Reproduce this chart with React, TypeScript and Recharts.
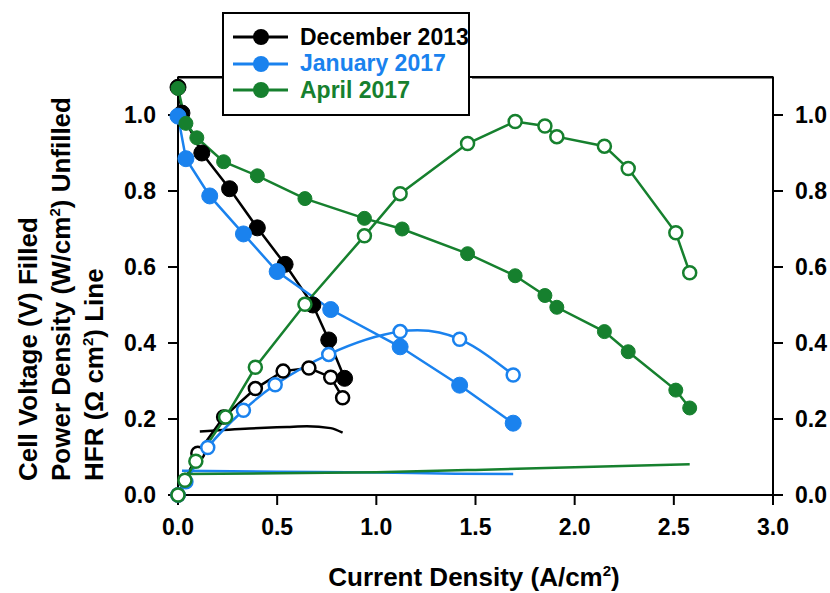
import React from "react";
import {
  ComposedChart,
  Line,
  XAxis,
  YAxis,
  Legend,
  ReferenceLine,
} from "recharts";

const FONT = "'Liberation Sans', Arial, sans-serif";
const BLACK = "#000000";
const BLUE = "#1a82ee";
const GREEN = "#16802e";

// December 2013
const decVoltX = [0, 0.02, 0.12, 0.26, 0.4, 0.54, 0.68, 0.76, 0.84];
const decVoltY = [1.073, 1.005, 0.9, 0.806, 0.703, 0.607, 0.5, 0.408, 0.307];
const decPowX = [0, 0.1, 0.23, 0.39, 0.53, 0.66, 0.77, 0.83];
const decPowY = [0, 0.11, 0.205, 0.28, 0.326, 0.334, 0.31, 0.256];
const decHfrX = [0.11, 0.36, 0.55, 0.65, 0.77, 0.83];
const decHfrY = [0.167, 0.175, 0.179, 0.181, 0.176, 0.164];

// January 2017
const janVoltX = [0, 0.04, 0.16, 0.33, 0.5, 0.77, 1.12, 1.42, 1.69];
const janVoltY = [0.997, 0.885, 0.787, 0.687, 0.588, 0.488, 0.39, 0.289, 0.189];
const janPowX = [0, 0.04, 0.15, 0.33, 0.49, 0.76, 1.12, 1.42, 1.69];
const janPowY = [0, 0.035, 0.125, 0.223, 0.29, 0.37, 0.43, 0.41, 0.316];
const janHfrX = [0.02, 0.5, 1.0, 1.4, 1.69];
const janHfrY = [0.064, 0.061, 0.059, 0.056, 0.055];

// April 2017
const aprVoltX = [0, 0.04, 0.095, 0.23, 0.4, 0.64, 0.94, 1.13, 1.46, 1.7, 1.85, 1.91, 2.15, 2.27, 2.51, 2.58];
const aprVoltY = [1.07, 0.978, 0.94, 0.877, 0.84, 0.78, 0.728, 0.7, 0.635, 0.577, 0.525, 0.494, 0.43, 0.377, 0.276, 0.229];
const aprPowX = [0, 0.035, 0.09, 0.24, 0.39, 0.64, 0.94, 1.12, 1.46, 1.7, 1.85, 1.91, 2.15, 2.27, 2.51, 2.58];
const aprPowY = [0, 0.039, 0.089, 0.205, 0.336, 0.502, 0.682, 0.793, 0.925, 0.983, 0.971, 0.943, 0.918, 0.859, 0.69, 0.585];
const aprHfrX = [0.03, 0.5, 1.0, 1.5, 2.0, 2.58];
const aprHfrY = [0.055, 0.057, 0.06, 0.066, 0.073, 0.081];

const xTicks = [0, 0.5, 1.0, 1.5, 2.0, 2.5, 3.0];
const yTicks = [0, 0.2, 0.4, 0.6, 0.8, 1.0];
const X_MAX = 3;
const Y_MAX = 1.1;

const legendItems = [
  { name: "December 2013", color: BLACK },
  { name: "January 2017", color: BLUE },
  { name: "April 2017", color: GREEN },
];

const toPoints = (xs: number[], ys: number[]) =>
  xs.map((x, i) => ({ x, y: ys[i] }));

const tickStyle = { fill: "#000", fontSize: 23, fontWeight: 700, fontFamily: FONT };
const axisStroke = { stroke: "#000", strokeWidth: 2 };

const filledDot = (color: string, r: number) => ({
  r,
  fill: color,
  stroke: color,
  strokeWidth: 1,
});
const openDot = (color: string) => ({
  r: 6.5,
  fill: "#fff",
  stroke: color,
  strokeWidth: 2.5,
});

function LegendBox() {
  return (
    <div
      style={{
        position: "relative",
        width: 244,
        height: 100,
        background: "#fff",
        border: "2px solid #000",
        fontFamily: FONT,
        fontWeight: 700,
        fontSize: 23,
        boxSizing: "content-box",
      }}
    >
      {legendItems.map((item, i) => (
        <div
          key={item.name}
          style={{
            position: "absolute",
            left: 8,
            top: 10 + i * 26.5,
            display: "flex",
            alignItems: "center",
            height: 26,
          }}
        >
          <svg width={58} height={20} style={{ marginRight: 10 }}>
            <line x1={1} y1={10} x2={56} y2={10} stroke={item.color} strokeWidth={3} />
            <circle cx={29} cy={10} r={8} fill={item.color} />
          </svg>
          <span style={{ color: item.color, whiteSpace: "nowrap" }}>{item.name}</span>
        </div>
      ))}
    </div>
  );
}

export default function App() {
  const series = [
    { key: "decH", data: toPoints(decHfrX, decHfrY), color: BLACK, kind: "hfr" },
    { key: "decP", data: toPoints(decPowX, decPowY), color: BLACK, kind: "pow" },
    { key: "decV", data: toPoints(decVoltX, decVoltY), color: BLACK, kind: "volt" },
    { key: "janH", data: toPoints(janHfrX, janHfrY), color: BLUE, kind: "hfr" },
    { key: "janP", data: toPoints(janPowX, janPowY), color: BLUE, kind: "pow" },
    { key: "janV", data: toPoints(janVoltX, janVoltY), color: BLUE, kind: "volt" },
    { key: "aprH", data: toPoints(aprHfrX, aprHfrY), color: GREEN, kind: "hfr" },
    { key: "aprP", data: toPoints(aprPowX, aprPowY), color: GREEN, kind: "pow" },
    { key: "aprV", data: toPoints(aprVoltX, aprVoltY), color: GREEN, kind: "volt" },
  ];

  return (
    <div style={{ position: "absolute", left: 0, top: 0, width: 830, height: 593, background: "#fff" }}>
      <ComposedChart
        width={830}
        height={593}
        margin={{ top: 77, right: 0, bottom: 0, left: 0 }}
      >
        <XAxis
          xAxisId="main"
          type="number"
          dataKey="x"
          domain={[0, X_MAX]}
          ticks={xTicks}
          tickFormatter={(v: number) => v.toFixed(1)}
          height={98}
          tick={tickStyle}
          tickSize={10}
          tickMargin={14}
          axisLine={axisStroke}
          tickLine={axisStroke}
        />
        <YAxis
          yAxisId="left"
          type="number"
          domain={[0, Y_MAX]}
          ticks={yTicks}
          tickFormatter={(v: number) => v.toFixed(1)}
          width={178}
          tick={tickStyle}
          tickSize={10}
          tickMargin={12}
          axisLine={axisStroke}
          tickLine={axisStroke}
        />
        <YAxis
          yAxisId="right"
          orientation="right"
          type="number"
          domain={[0, Y_MAX]}
          allowDataOverflow
          ticks={yTicks}
          tickFormatter={(v: number) => v.toFixed(1)}
          width={57}
          tick={{ ...tickStyle, textAnchor: "start" }}
          tickSize={10}
          tickMargin={12}
          axisLine={axisStroke}
          tickLine={axisStroke}
        />
        {/* top frame drawn as a segment through the axes' scales */}
        <ReferenceLine
          xAxisId="main"
          yAxisId="left"
          segment={[
            { x: 0, y: Y_MAX },
            { x: X_MAX, y: Y_MAX },
          ]}
          stroke="#000"
          strokeWidth={2}
          ifOverflow="visible"
        />
        {series.map((s) => (
          <Line
            key={s.key}
            xAxisId="main"
            yAxisId="left"
            data={s.data}
            dataKey="y"
            type={s.kind === "hfr" ? "monotone" : s.key === "janP" ? "natural" : "linear"}
            stroke={s.color}
            strokeWidth={2.5}
            dot={
              s.kind === "hfr"
                ? false
                : s.kind === "pow"
                ? openDot(s.color)
                : filledDot(s.color, s.color === GREEN ? 7 : 8)
            }
            activeDot={false}
            isAnimationActive={false}
            legendType="none"
          />
        ))}
        <Legend
          layout="horizontal"
          align="center"
          verticalAlign="middle"
          wrapperStyle={{ left: 222, top: 12, width: 248, height: 104 }}
          content={() => <LegendBox />}
        />
      </ComposedChart>
      <svg
        width={830}
        height={593}
        style={{ position: "absolute", left: 0, top: 0, pointerEvents: "none" }}
        fontFamily={FONT}
        fontWeight={700}
        fontSize={26}
      >
        <path d="M177 77.5 H222 M472 77.5 H774" stroke="#000" strokeWidth={2} fill="none" />
        <text x={474} y={586} textAnchor="middle" fill="#000">
          Current Density (A/cm<tspan dy={-10} fontSize={15}>2</tspan>
          <tspan dy={10}>)</tspan>
        </text>
        <g transform="translate(37,481) rotate(-90)">
          <text x={0} y={0} fill="#000">Cell Voltage (V) Filled</text>
          <text x={0} y={33} fill="#000">
            Power Density (W/cm<tspan dy={-10} fontSize={15}>2</tspan>
            <tspan dy={10}>) Unfilled</tspan>
          </text>
          <text x={0} y={66} fill="#000">
            HFR (Ω cm<tspan dy={-10} fontSize={15}>2</tspan>
            <tspan dy={10}>) Line</tspan>
          </text>
        </g>
      </svg>
    </div>
  );
}
